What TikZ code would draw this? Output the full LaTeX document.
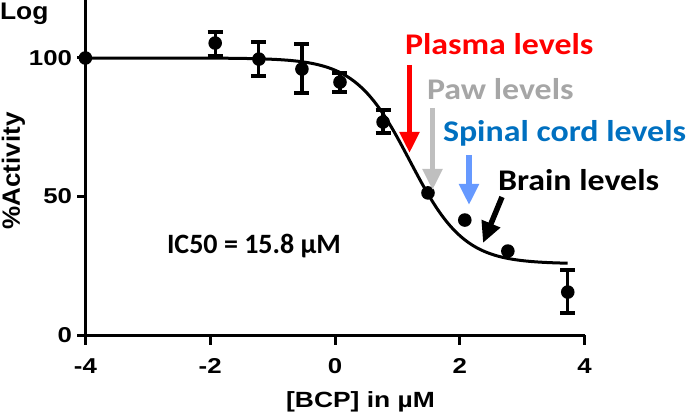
\documentclass[tikz,border=0pt]{standalone}
\usepackage{fontspec}
\setmainfont{Liberation Sans}
\newfontfamily\calib{Carlito}
\usetikzlibrary{arrows.meta}
\definecolor{plasmared}{HTML}{FF0000}
\definecolor{pawtext}{HTML}{A6A6A6}
\definecolor{pawarrow}{HTML}{BFBFBF}
\definecolor{spinaltext}{HTML}{0070C0}
\definecolor{spinalarrow}{HTML}{6699FF}
\begin{document}
\begin{tikzpicture}[x=1pt,y=-1pt,
  lbl/.style={inner sep=0pt, outer sep=0pt},
  axisline/.style={line width=3pt},
  ticklbl/.style={lbl, font=\bfseries\fontsize{21.5}{21.5}\selectfont},
  axlbl/.style={lbl, font=\bfseries\fontsize{24}{24}\selectfont},
  lvl/.style={lbl, font=\calib\bfseries\fontsize{30}{30}\selectfont, anchor=base west},
  lvlarrow/.style={line width=5.5pt, -{Triangle[length=21pt,width=19pt]}},
  errbar/.style={line width=3.2pt},
  errcap/.style={line width=4pt},
  datapt/.style={fill=black},
]
\useasboundingbox (0,0) rectangle (690,414);

% axis titles
\node[axlbl, anchor=base west] (logt) at (0,20) {\scalebox{1.1}[1]{Log}};
\node[axlbl, rotate=90, font=\bfseries\fontsize{25}{25}\selectfont] (ylab) at (13.5,171) {\scalebox{1.04}[1]{\%Activity}};
\node[axlbl, anchor=base, font=\bfseries\fontsize{22}{22}\selectfont] (xlab) at (360.5,407) {\scalebox{1.2}[1]{[BCP] in µM}};

% y tick labels
\node[ticklbl, anchor=east] (y100) at (72,58) {\scalebox{1.2}[1]{100}};
\node[ticklbl, anchor=east] (y50) at (72,196.5) {\scalebox{1.2}[1]{50}};
\node[ticklbl, anchor=east] (y0) at (72,335) {\scalebox{1.2}[1]{0}};
% x tick labels
\node[ticklbl] (xm4) at (85.4,366) {\scalebox{1.2}[1]{-4}};
\node[ticklbl] (xm2) at (210.2,366) {\scalebox{1.2}[1]{-2}};
\node[ticklbl] (x0) at (335,366) {\scalebox{1.2}[1]{0}};
\node[ticklbl] (x2) at (459.8,366) {\scalebox{1.2}[1]{2}};
\node[ticklbl] (x4) at (584.6,366) {\scalebox{1.2}[1]{4}};

\begin{scope}[shift={(335,335)}, x=62.4pt, y=2.77pt]
  % axes
  \draw[axisline, line cap=butt] (-4,121) -- (-4,0) -- (4,0);
  \foreach \v in {0,50,100} \draw[axisline] (-4,\v) -- ++(-8.5pt,0);
  \foreach \u in {-4,-2,0,2,4} \draw[axisline] (\u,0) -- ++(0,-9.5pt);
  % fitted curve
  \draw[line width=3pt] plot[domain=-4:3.73, samples=150, smooth]
    (\x,{25.7+74.3/(1+exp(2.302585*(\x-1.2)))});
  % error bars
  \foreach \xx/\lo/\hi in {-1.92/100.7/109.4, -1.22/93.5/105.8, -0.53/87.4/105.1,
                           0.08/87.7/94.6, 0.77/72.9/81.2, 3.73/7.9/23.5} {
    \draw[errbar] (\xx,\lo) -- (\xx,\hi);
    \draw[errcap] (\xx,\lo) ++(-7.5pt,0) -- ++(15pt,0);
    \draw[errcap] (\xx,\hi) ++(-7.5pt,0) -- ++(15pt,0);
  }
  % data points
  \foreach \xx/\yy in {-4/100, -1.92/105.4, -1.22/99.6, -0.53/96.0, 0.08/91.3,
                       0.77/76.9, 1.49/51.3, 2.08/41.5, 2.77/30.3, 3.73/15.5}
    \fill[datapt] (\xx,\yy) circle[radius=6.8pt];
\end{scope}

% IC50
\node[lbl, anchor=base west, font=\calib\bfseries\fontsize{28}{28}\selectfont] (ic50) at (167,253) {IC50 = 15.8 µM};

% level labels
\node[lvl, text=plasmared] (plasma) at (405,55) {\scalebox{1.13}[1]{Plasma levels}};
\node[lvl, text=pawtext] (paw) at (427,100) {\scalebox{1.13}[1]{Paw levels}};
\node[lvl, text=spinaltext] (spinal) at (443,142) {\scalebox{1.13}[1]{Spinal cord levels}};
\node[lvl, text=black] (brain) at (498,190) {\scalebox{1.13}[1]{Brain levels}};

% level arrows
\coordinate (pA) at (409.5,65);  \coordinate (pB) at (409.5,153);
\coordinate (wA) at (432.5,108); \coordinate (wB) at (432.5,190);
\coordinate (sA) at (469,155);   \coordinate (sB) at (469,205);
\coordinate (bA) at (502,197);   \coordinate (bB) at (483,243);
\draw[lvlarrow, plasmared] (pA) -- (pB);
\draw[lvlarrow, pawarrow] (wA) -- (wB);
\draw[lvlarrow, spinalarrow] (sA) -- (sB);
\draw[lvlarrow, black] (bA) -- (bB);
\end{tikzpicture}
\end{document}
